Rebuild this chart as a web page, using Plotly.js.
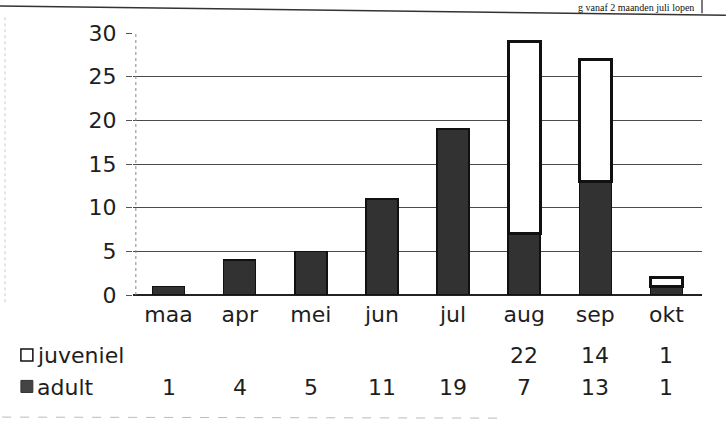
<!DOCTYPE html>
<html>
<head>
<meta charset="utf-8">
<script src="https://cdn.plot.ly/plotly-3.0.1.min.js"></script>
<style>
  html, body { margin: 0; padding: 0; background: #fff; }
  #chart { width: 726px; height: 423px; }
</style>
</head>
<body>
<div id="chart"></div>
<script>
const months = ["maa", "apr", "mei", "jun", "jul", "aug", "sep", "okt"];
const adult = [1, 4, 5, 11, 19, 7, 13, 1];
const juveniel = [null, null, null, null, null, 22, 14, 1];
const seriesNames = ["juveniel", "adult"];
const yTicks = [0, 5, 10, 15, 20, 25, 30];
const headerText = "g vanaf 2 maanden juli lopen";

const FONT = "DejaVu Sans, Arial, sans-serif";
const FS = 22;
const TXT = "#1e1e1e";

const traces = [
  {
    type: "bar", name: seriesNames[1], x: months, y: adult,
    marker: { color: "#323232", line: { color: "#111", width: 1.5 } },
    hoverinfo: "x+y"
  },
  {
    type: "bar", name: seriesNames[0], x: months, y: juveniel,
    marker: { color: "#ffffff", line: { color: "#111", width: 3 } },
    hoverinfo: "x+y"
  }
];

// data table below the chart, built from the arrays
const annotations = [];
const rowY = { juveniel: -0.232, adult: -0.352 };
months.forEach((m, i) => {
  if (juveniel[i] !== null) {
    annotations.push({ x: m, xref: "x", y: rowY.juveniel, yref: "paper", text: String(juveniel[i]),
      showarrow: false, font: { family: FONT, size: FS, color: TXT }, xanchor: "center", yanchor: "middle" });
  }
  annotations.push({ x: m, xref: "x", y: rowY.adult, yref: "paper", text: String(adult[i]),
    showarrow: false, font: { family: FONT, size: FS, color: TXT }, xanchor: "center", yanchor: "middle" });
});
const labelX = -0.172;
annotations.push({ x: labelX, xref: "paper", y: rowY.juveniel, yref: "paper", text: seriesNames[0],
  showarrow: false, xanchor: "left", yanchor: "middle", font: { family: FONT, size: FS, color: TXT } });
annotations.push({ x: labelX, xref: "paper", y: rowY.adult, yref: "paper", text: seriesNames[1],
  showarrow: false, xanchor: "left", yanchor: "middle", font: { family: FONT, size: FS, color: TXT } });
// page header from the scan (shrunk to stay inside the picture)
annotations.push({ x: 0.99, xref: "paper", y: 1.126, yref: "paper", text: headerText,
  showarrow: false, xanchor: "right", yanchor: "top",
  font: { family: "Liberation Serif, Times New Roman, serif", size: 10, color: "#111" } });

const shapes = [
  // legend keys
  { type: "rect", xref: "paper", yref: "paper", x0: -0.197, x1: -0.176, y0: rowY.juveniel - 0.02, y1: rowY.juveniel + 0.026,
    line: { color: "#111", width: 1.5 }, fillcolor: "#fff" },
  { type: "rect", xref: "paper", yref: "paper", x0: -0.197, x1: -0.176, y0: rowY.adult - 0.02, y1: rowY.adult + 0.026,
    line: { color: "#333", width: 1 }, fillcolor: "#444" },
  // scan decorations
  { type: "line", xref: "paper", yref: "paper", x0: -0.234, x1: 1.042, y0: 1.103, y1: 1.068, line: { color: "#333", width: 1.5 } },
  { type: "line", xref: "paper", yref: "paper", x0: 1.0, x1: 1.0, y0: 1.126, y1: 1.075, line: { color: "#222", width: 1.2 } },
  { type: "line", xref: "paper", yref: "paper", x0: -0.23, x1: 0.65, y0: -0.466, y1: -0.47, line: { color: "#bbb", width: 1, dash: "dash" } },
  { type: "line", xref: "paper", yref: "paper", x0: -0.225, x1: -0.225, y0: 1.06, y1: -0.03, line: { color: "#ccc", width: 1, dash: "dot" } },
  { type: "line", xref: "paper", yref: "paper", x0: 0.005, x1: 0.005, y0: 0, y1: 1, line: { color: "#888", width: 1, dash: "dot" } }
];

const layout = {
  width: 726, height: 423,
  margin: { l: 133, r: 24, t: 33, b: 128, pad: 0 },
  paper_bgcolor: "#ffffff", plot_bgcolor: "#ffffff",
  barmode: "stack", bargap: 0.55,
  showlegend: false,
  font: { family: FONT, size: FS, color: TXT },
  xaxis: {
    type: "category", categoryarray: months,
    showgrid: false, showline: false, zeroline: false, ticks: "",
    tickfont: { family: FONT, size: FS, color: TXT }, ticklabelstandoff: 4
  },
  yaxis: {
    range: [0, 30], tickvals: yTicks, ticktext: yTicks.map(String),
    showgrid: true, gridcolor: "#4a4a4a", gridwidth: 1,
    zeroline: true, zerolinecolor: "#222", zerolinewidth: 1.5,
    showline: false, ticks: "outside", ticklen: 6, tickcolor: "#555",
    tickfont: { family: FONT, size: FS, color: TXT }, ticklabelstandoff: 5
  },
  annotations: annotations,
  shapes: shapes
};

Plotly.newPlot("chart", traces, layout, { displayModeBar: false, staticPlot: true });
</script>
</body>
</html>
